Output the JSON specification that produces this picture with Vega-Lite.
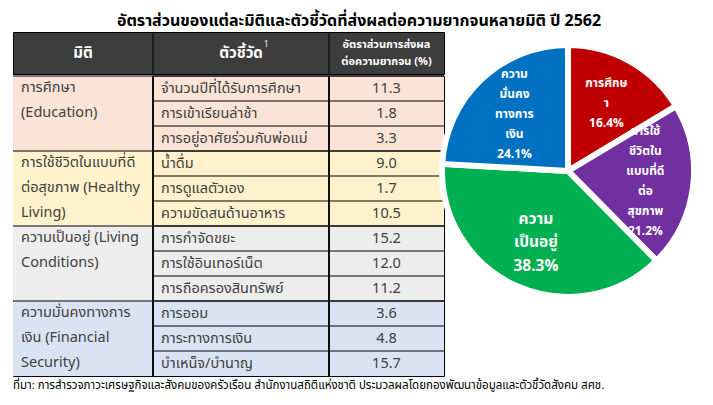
{
  "$schema": "https://vega.github.io/schema/vega-lite/v6.json",
  "padding": {"left": 12, "top": 13, "right": 4, "bottom": 2},
  "background": "white",
  "config": {
    "font": "Noto Sans Thai, Tahoma, Noto Sans, sans-serif",
    "view": {"stroke": null},
    "concat": {"spacing": 0}
  },
  "title": {
    "text": "อัตราส่วนของแต่ละมิติและตัวชี้วัดที่ส่งผลต่อความยากจนหลายมิติ ปี 2562",
    "fontSize": 16,
    "fontWeight": "bold",
    "color": "#000000",
    "anchor": "middle",
    "offset": 2
  },
  "datasets": {
    "rows": [
      {"row": 1, "group": "Education", "indicator": "จำนวนปีที่ได้รับการศึกษา", "value": 11.3},
      {"row": 2, "group": "Education", "indicator": "การเข้าเรียนล่าช้า", "value": 1.8},
      {"row": 3, "group": "Education", "indicator": "การอยู่อาศัยร่วมกับพ่อแม่", "value": 3.3},
      {"row": 4, "group": "Healthy Living", "indicator": "น้ำดื่ม", "value": 9.0},
      {"row": 5, "group": "Healthy Living", "indicator": "การดูแลตัวเอง", "value": 1.7},
      {"row": 6, "group": "Healthy Living", "indicator": "ความขัดสนด้านอาหาร", "value": 10.5},
      {"row": 7, "group": "Living Conditions", "indicator": "การกำจัดขยะ", "value": 15.2},
      {"row": 8, "group": "Living Conditions", "indicator": "การใช้อินเทอร์เน็ต", "value": 12.0},
      {"row": 9, "group": "Living Conditions", "indicator": "การถือครองสินทรัพย์", "value": 11.2},
      {"row": 10, "group": "Financial Security", "indicator": "การออม", "value": 3.6},
      {"row": 11, "group": "Financial Security", "indicator": "ภาระทางการเงิน", "value": 4.8},
      {"row": 12, "group": "Financial Security", "indicator": "บำเหน็จ/บำนาญ", "value": 15.7}
    ],
    "groups": [
      {"row": 1, "group": "Education", "label": "การศึกษา\n(Education)"},
      {"row": 4, "group": "Healthy Living", "label": "การใช้ชีวิตในแบบที่ดี\nต่อสุขภาพ (Healthy\nLiving)"},
      {"row": 7, "group": "Living Conditions", "label": "ความเป็นอยู่ (Living\nConditions)"},
      {"row": 10, "group": "Financial Security", "label": "ความมั่นคงทางการ\nเงิน (Financial\nSecurity)"}
    ],
    "pie": [
      {"k": 1, "group": "Education", "share": 16.4, "label": "การศึกษ\nา\n16.4%"},
      {"k": 2, "group": "Healthy Living", "share": 21.2, "label": "การใช้\nชีวิตใน\nแบบที่ดี\nต่อ\nสุขภาพ\n21.2%"},
      {"k": 3, "group": "Living Conditions", "share": 38.3, "label": "ความ\nเป็นอยู่\n38.3%"},
      {"k": 4, "group": "Financial Security", "share": 24.1, "label": "ความ\nมั่นคง\nทางการ\nเงิน\n24.1%"}
    ]
  },
  "resolve": {"scale": {"x": "independent", "y": "independent", "color": "independent", "fill": "independent"}},
  "spacing": 0,
  "vconcat": [
    {
      "spacing": -18,
      "resolve": {"scale": {"x": "independent", "y": "independent", "color": "independent", "fill": "independent"}},
      "hconcat": [
        {
          "spacing": 0,
          "resolve": {"scale": {"x": "independent", "y": "independent", "fill": "independent"}},
          "vconcat": [
            {
              "width": 431,
              "height": 42,
              "view": {"fill": "#3d3d3d", "stroke": "#000000"},
              "data": {"values": [{}]},
              "layer": [
                {
                  "mark": {"type": "rule", "color": "#000000", "strokeWidth": 1},
                  "encoding": {"x": {"datum": 140, "type": "quantitative", "scale": {"domain": [0, 431], "nice": false, "zero": false}, "axis": null}}
                },
                {
                  "mark": {"type": "rule", "color": "#000000", "strokeWidth": 1},
                  "encoding": {"x": {"datum": 316, "type": "quantitative"}}
                },
                {
                  "mark": {"type": "text", "text": "มิติ", "color": "white", "fontWeight": "bold", "fontSize": 15, "baseline": "middle"},
                  "encoding": {
                    "x": {"datum": 70, "type": "quantitative"},
                    "y": {"datum": 0.5, "type": "quantitative", "scale": {"domain": [0, 1], "nice": false, "reverse": true}, "axis": null}
                  }
                },
                {
                  "mark": {"type": "text", "text": "ตัวชี้วัด", "color": "white", "fontWeight": "bold", "fontSize": 15, "baseline": "middle"},
                  "encoding": {
                    "x": {"datum": 228, "type": "quantitative"},
                    "y": {"datum": 0.5, "type": "quantitative"}
                  }
                },
                {
                  "mark": {"type": "text", "text": "1", "color": "white", "fontSize": 8, "baseline": "middle", "align": "left"},
                  "encoding": {
                    "x": {"datum": 251, "type": "quantitative"},
                    "y": {"datum": 0.3, "type": "quantitative"}
                  }
                },
                {
                  "mark": {"type": "text", "text": "อัตราส่วนการส่งผล", "color": "white", "fontWeight": "bold", "fontSize": 11, "baseline": "middle"},
                  "encoding": {
                    "x": {"datum": 373.5, "type": "quantitative"},
                    "y": {"datum": 0.3, "type": "quantitative"}
                  }
                },
                {
                  "mark": {"type": "text", "text": "ต่อความยากจน (%)", "color": "white", "fontWeight": "bold", "fontSize": 11, "baseline": "middle"},
                  "encoding": {
                    "x": {"datum": 373.5, "type": "quantitative"},
                    "y": {"datum": 0.72, "type": "quantitative"}
                  }
                }
              ]
            },
            {
              "width": 431,
              "height": 300,
              "view": {"stroke": "#000000"},
              "layer": [
                {
                  "data": {"name": "rows"},
                  "mark": {"type": "rect"},
                  "encoding": {
                    "x": {"datum": 0, "type": "quantitative", "scale": {"domain": [0, 431], "nice": false, "zero": false}, "axis": null},
                    "x2": {"datum": 431},
                    "y": {"field": "row", "type": "ordinal", "scale": {"paddingInner": 0, "paddingOuter": 0}, "axis": null},
                    "fill": {
                      "field": "group",
                      "type": "nominal",
                      "scale": {
                        "domain": ["Education", "Healthy Living", "Living Conditions", "Financial Security"],
                        "range": ["#fbe4d6", "#fff2cc", "#ededed", "#dae3f3"]
                      },
                      "legend": null
                    }
                  }
                },
                {
                  "data": {"name": "rows"},
                  "mark": {"type": "rule", "color": "#000000", "strokeWidth": 1},
                  "encoding": {
                    "x": {"datum": 140, "type": "quantitative"},
                    "x2": {"datum": 431},
                    "y": {"field": "row", "type": "ordinal", "bandPosition": 0}
                  }
                },
                {
                  "data": {"name": "groups"},
                  "mark": {"type": "rule", "color": "#000000", "strokeWidth": 1},
                  "encoding": {
                    "x": {"datum": 0, "type": "quantitative"},
                    "x2": {"datum": 431},
                    "y": {"field": "row", "type": "ordinal", "bandPosition": 0}
                  }
                },
                {
                  "data": {"name": "groups"},
                  "mark": {"type": "rule", "color": "#000000", "strokeWidth": 1},
                  "encoding": {"x": {"datum": 140, "type": "quantitative"}}
                },
                {
                  "data": {"name": "groups"},
                  "mark": {"type": "rule", "color": "#000000", "strokeWidth": 1},
                  "encoding": {"x": {"datum": 316, "type": "quantitative"}}
                },
                {
                  "data": {"name": "groups"},
                  "mark": {"type": "text", "align": "left", "baseline": "top", "dy": 5.4, "fontSize": 14.5, "lineHeight": 25, "lineBreak": "\n", "color": "#404040"},
                  "encoding": {
                    "x": {"datum": 8, "type": "quantitative"},
                    "y": {"field": "row", "type": "ordinal", "bandPosition": 0},
                    "text": {"field": "label", "type": "nominal"}
                  }
                },
                {
                  "data": {"name": "rows"},
                  "mark": {"type": "text", "align": "left", "baseline": "middle", "fontSize": 14.5, "color": "#404040"},
                  "encoding": {
                    "x": {"datum": 148, "type": "quantitative"},
                    "y": {"field": "row", "type": "ordinal"},
                    "text": {"field": "indicator", "type": "nominal"}
                  }
                },
                {
                  "data": {"name": "rows"},
                  "mark": {"type": "text", "align": "center", "baseline": "middle", "fontSize": 14.5, "color": "#404040"},
                  "encoding": {
                    "x": {"datum": 373.5, "type": "quantitative"},
                    "y": {"field": "row", "type": "ordinal"},
                    "text": {"field": "value", "type": "quantitative", "format": ".1f"}
                  }
                }
              ]
            }
          ]
        },
        {
          "width": 246,
          "height": 278,
          "data": {"name": "pie"},
          "encoding": {
            "theta": {"field": "share", "type": "quantitative", "stack": true},
            "order": {"field": "k", "type": "quantitative"}
          },
          "layer": [
            {
              "mark": {"type": "arc", "outerRadius": 126, "stroke": "white", "strokeWidth": 6},
              "encoding": {
                "color": {
                  "field": "group",
                  "type": "nominal",
                  "scale": {
                    "domain": ["Education", "Healthy Living", "Living Conditions", "Financial Security"],
                    "range": ["#c00000", "#7030a0", "#00b050", "#0070c0"]
                  },
                  "legend": null
                }
              }
            },
            {
              "mark": {
                "type": "text",
                "radius": 78,
                "fill": "white",
                "fontWeight": "bold",
                "baseline": "middle",
                "align": "center",
                "lineBreak": "\n",
                "lineHeight": {"expr": "datum.k == 3 ? 23.5 : 20"},
                "dy": {"expr": "-(length(split(datum.label, '\\n')) - 1) * (datum.k == 3 ? 23.5 : 20) / 2"}
              },
              "encoding": {
                "text": {"field": "label", "type": "nominal"},
                "size": {"condition": {"test": "datum.k == 3", "value": 15.5}, "value": 12}
              }
            }
          ]
        }
      ]
    },
    {
      "width": 431,
      "height": 18,
      "data": {"values": [{}]},
      "mark": {
        "type": "text",
        "text": "ที่มา: การสำรวจภาวะเศรษฐกิจและสังคมของครัวเรือน สำนักงานสถิติแห่งชาติ ประมวลผลโดยกองพัฒนาข้อมูลและตัวชี้วัดสังคม สศช.",
        "align": "left",
        "baseline": "middle",
        "fontSize": 11.5,
        "color": "#000000"
      },
      "encoding": {
        "x": {"datum": 0, "type": "quantitative", "scale": {"domain": [0, 431], "nice": false, "zero": false}, "axis": null},
        "y": {"datum": 0.5, "type": "quantitative", "scale": {"domain": [0, 1], "nice": false}, "axis": null}
      }
    }
  ]
}
